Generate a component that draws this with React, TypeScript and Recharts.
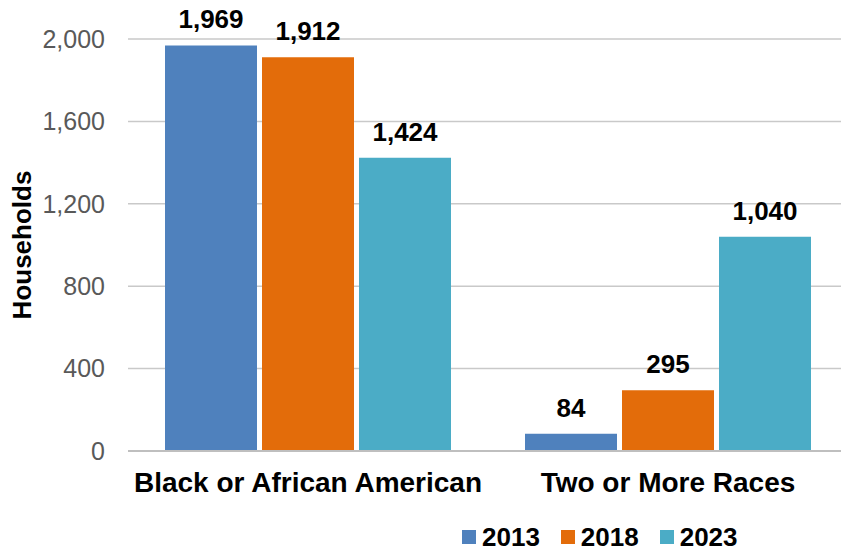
import { BarChart, Bar, XAxis, YAxis, CartesianGrid, Legend, LabelList } from "recharts";

const categories = ["Black or African American", "Two or More Races"];
const years = ["2013", "2018", "2023"];
const values2013 = [1969, 84];
const values2018 = [1912, 295];
const values2023 = [1424, 1040];
const yTicks = [0, 400, 800, 1200, 1600, 2000];

const COLORS = ["#4F81BD", "#E36C0A", "#4BACC6"];
const FONT = '"Liberation Sans", Arial, sans-serif';

const data = categories.map((name, i) => ({
  name,
  y2013: values2013[i],
  y2018: values2018[i],
  y2023: values2023[i],
}));

const fmt = (v: unknown) => Number(v).toLocaleString("en-US");

function LegendBox() {
  return (
    <div style={{ display: "flex", alignItems: "center", height: 30, fontFamily: FONT }}>
      {years.map((y, i) => (
        <div key={y} style={{ display: "flex", alignItems: "center", marginRight: 21 }}>
          <span style={{ width: 14, height: 14, background: COLORS[i], marginRight: 6, display: "inline-block" }} />
          <span style={{ fontSize: 26, fontWeight: 700, color: "#000", lineHeight: "30px" }}>{y}</span>
        </div>
      ))}
    </div>
  );
}

export default function App() {
  return (
    <div style={{ position: "absolute", left: 0, top: 0, width: 841, height: 554, overflow: "hidden", background: "#fff" }}>
      <BarChart
        width={848}
        height={554}
        data={data}
        margin={{ top: 39, right: 0, bottom: 0, left: 0 }}
        barSize={92}
        barGap={5}
        style={{ fontFamily: FONT }}
      >
        <CartesianGrid vertical={false} stroke="#c9c9c9" strokeWidth={1.5} />
        <XAxis
          dataKey="name"
          height={103}
          tickLine={false}
          axisLine={{ stroke: "#bfbfbf", strokeWidth: 2 }}
          tickMargin={15}
          tick={{ fontSize: 28, fontWeight: 700, fill: "#000" }}
        />
        <YAxis
          width={128}
          domain={[0, 2000]}
          ticks={yTicks}
          tickFormatter={fmt}
          axisLine={false}
          tickLine={false}
          tickMargin={17}
          tick={{ fontSize: 25, fill: "#595959" }}
          label={{
            value: "Households",
            angle: -90,
            position: "insideLeft",
            offset: 22,
            style: { fontSize: 26, fontWeight: 700, fill: "#000", textAnchor: "middle" },
          }}
        />
        <Legend
          verticalAlign="middle"
          align="center"
          content={() => <LegendBox />}
          wrapperStyle={{ top: 522, left: 462, width: 320, height: 30 }}
        />
        {["y2013", "y2018", "y2023"].map((k, i) => (
          <Bar key={k} dataKey={k} name={years[i]} fill={COLORS[i]} isAnimationActive={false}>
            <LabelList
              dataKey={k}
              position="top"
              offset={17}
              formatter={fmt}
              style={{ fontSize: 26, fontWeight: 700, fill: "#000" }}
            />
          </Bar>
        ))}
      </BarChart>
    </div>
  );
}
